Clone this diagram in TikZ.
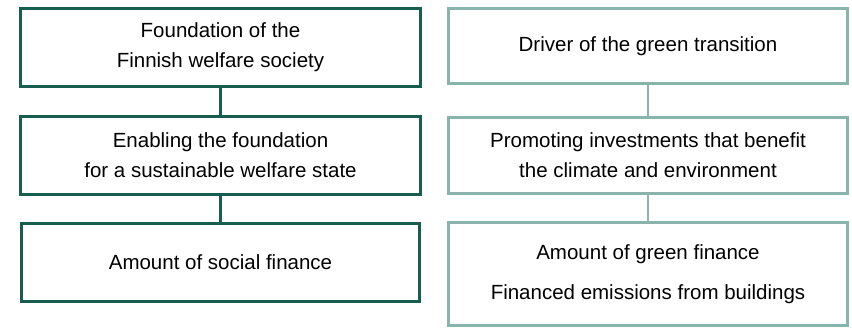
\documentclass[tikz,border=0pt]{standalone}
\usepackage{fontspec}
\setmainfont{Liberation Sans}
\definecolor{darkgreen}{HTML}{175E51}
\definecolor{lightgreen}{HTML}{88B4AB}
\begin{document}
\begin{tikzpicture}[x = 1pt, y = -1pt,
	box/.style = {rectangle, line width = 2.6pt, minimum width = 400pt, minimum height = 78pt,
		inner sep = 0pt, align = center, font = \fontsize{20.5}{30}\selectfont},
	boxL/.style = {box, draw = darkgreen},
	boxR/.style = {box, draw = lightgreen}]
%
%Rahmen
\useasboundingbox (0,0) rectangle (852,328);

\def \xL {220.5}
\def \xR {648}

%Knoten links
	\node [boxL] (social1) at (\xL,47.5) {Foundation of the\\Finnish welfare society};
	\node [boxL] (social2) at (\xL,155.5) {Enabling the foundation\\for a sustainable welfare state};
	\node [boxL, minimum width = 398pt] (social3) at (\xL,262.5) {Amount of social finance};

%Knoten rechts
	\node [boxR, minimum width = 399pt, minimum height = 75pt] (green1) at (\xR,46) {Driver of the green transition};
	\node [boxR, minimum width = 399pt, minimum height = 76pt] (green2) at (\xR,155.5) {Promoting investments that benefit\\the climate and environment};
	\node [boxR, minimum width = 399pt, minimum height = 103pt] (green3) at (\xR,274) {Amount of green finance\\[10pt]Financed emissions from buildings};

%Verbindungen
	\draw [-, line width = 2.6pt, darkgreen] (social1) -- (social2);
	\draw [-, line width = 2.6pt, darkgreen] (social2) -- (social3);
	\draw [-, line width = 2.6pt, lightgreen] (green1) -- (green2);
	\draw [-, line width = 2.6pt, lightgreen] (green2) -- (green3);

\end{tikzpicture}
\end{document}
